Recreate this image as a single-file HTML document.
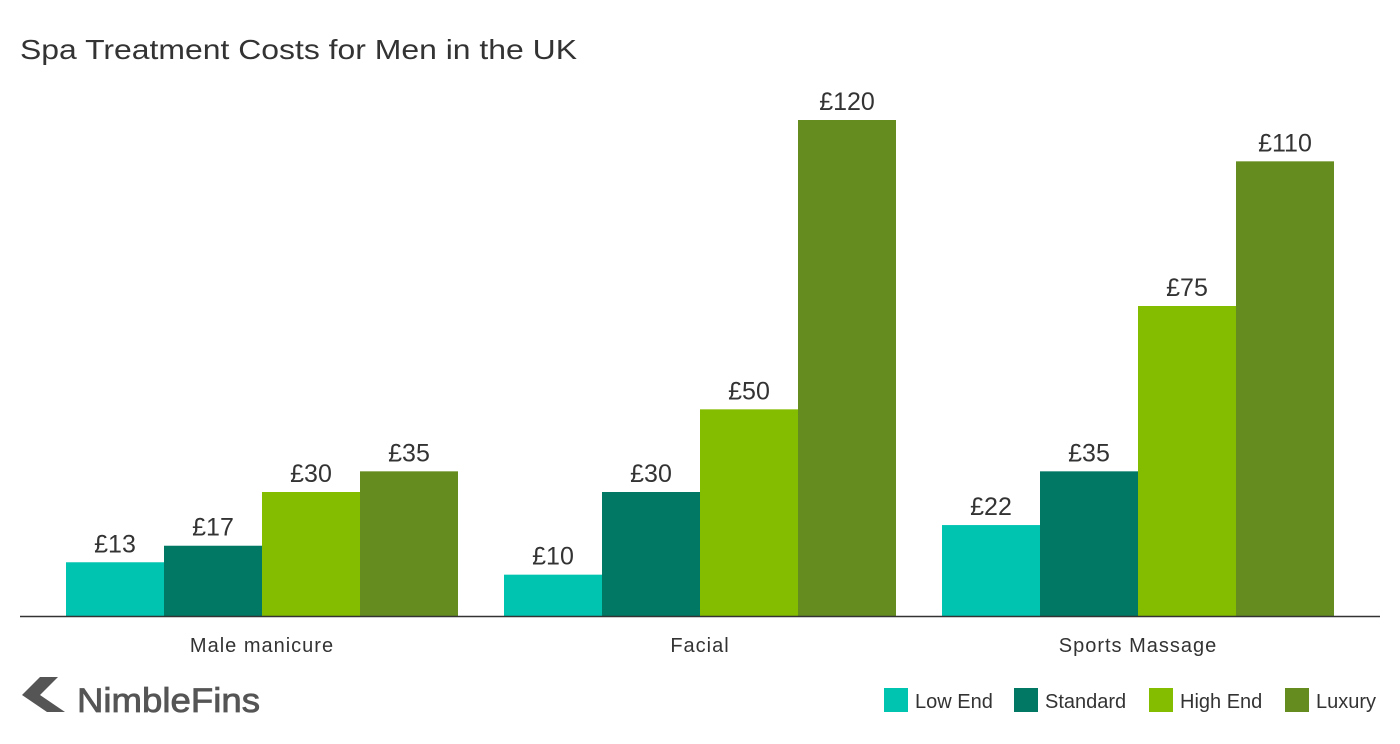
<!DOCTYPE html>
<html><head><meta charset="utf-8"><style>
body{margin:0;background:#fff;}
svg{display:block;font-family:"Liberation Sans",sans-serif;}
</style></head><body>
<svg width="1400" height="744" viewBox="0 0 1400 744">
<text x="20" y="59" font-size="28" fill="#333" textLength="557" lengthAdjust="spacingAndGlyphs">Spa Treatment Costs for Men in the UK</text>
<g id="bars"></g>
<line x1="20" x2="1380" y1="616.5" y2="616.5" stroke="#333" stroke-width="1.5"/>
<g>
<polygon points="40,677 58,677 40,695 65,712 47,712 22,695" fill="#555"/>
<text x="77" y="712" font-size="34" fill="#555" stroke="#555" stroke-width="0.8" textLength="183" lengthAdjust="spacingAndGlyphs">NimbleFins</text>
</g>
<g id="legend"></g>
</svg>
<script>
const categories=["Male manicure","Facial","Sports Massage"];
const seriesNames=["Low End","Standard","High End","Luxury"];
const lowEnd=[13,10,22];
const standard=[17,30,35];
const highEnd=[30,50,75];
const luxury=[35,120,110];
const series=[lowEnd,standard,highEnd,luxury];
const colors=["#00c3b0","#007864","#84bc00","#658c1e"];
const NS="http://www.w3.org/2000/svg";
const base=616, ppu=496/120;
const y=v=>base-v*ppu;
const groupX=i=>66+i*438;
const barW=98;
const g=document.getElementById('bars');
categories.forEach((c,i)=>{
  series.forEach((s,j)=>{
    const r=document.createElementNS(NS,'rect');
    const x=groupX(i)+j*barW;
    r.setAttribute('x',x);r.setAttribute('y',y(s[i]));
    r.setAttribute('width',barW);r.setAttribute('height',base-y(s[i]));
    r.setAttribute('fill',colors[j]);
    
    
    g.appendChild(r);
    const t=document.createElementNS(NS,'text');
    t.setAttribute('x',x+barW/2);t.setAttribute('y',y(s[i])-10);
    t.setAttribute('text-anchor','middle');t.setAttribute('font-size','25');t.setAttribute('fill','#333');
    t.textContent='£'+s[i];
    
    
    g.appendChild(t);
  });
  const t=document.createElementNS(NS,'text');
  t.setAttribute('x',groupX(i)+2*barW);t.setAttribute('y',652);
  t.setAttribute('text-anchor','middle');t.setAttribute('font-size','20');t.setAttribute('fill','#333');
  t.setAttribute('letter-spacing','1');
  t.textContent=c;
  
  
  g.appendChild(t);
});
const lg=document.getElementById('legend');
const lx=[884,1014,1149,1285];
seriesNames.forEach((n,j)=>{
  const r=document.createElementNS(NS,'rect');
  r.setAttribute('x',lx[j]);r.setAttribute('y',688);r.setAttribute('width',24);r.setAttribute('height',24);
  r.setAttribute('fill',colors[j]);
  
  
  lg.appendChild(r);
  const t=document.createElementNS(NS,'text');
  t.setAttribute('x',lx[j]+31);t.setAttribute('y',708);
  t.setAttribute('font-size','20');t.setAttribute('fill','#333');
  t.textContent=n;
  
  
  lg.appendChild(t);
});
</script>
</body></html>
